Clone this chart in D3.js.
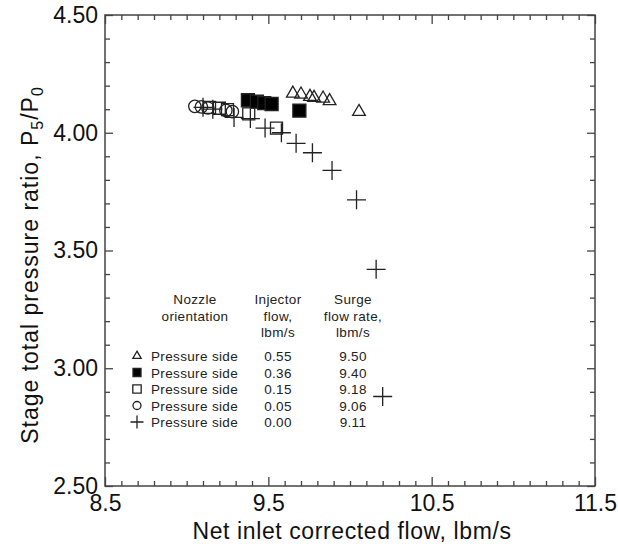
<!DOCTYPE html>
<html>
<head>
<meta charset="utf-8">
<script src="https://cdn.jsdelivr.net/npm/d3@7"></script>
<style>
  body { margin: 0; background: #fff; }
  svg { font-family: "Liberation Sans", Arial, Helvetica, sans-serif; }
  .axis path, .axis line { stroke: #444; stroke-width: 1.3; }
  .axis text { font-size: 23px; fill: #111; }
  .mark { stroke: #222; stroke-width: 1.3; }
  .leg { font-size: 13.5px; fill: #222; letter-spacing: 0.35px; }
  .title { font-size: 23px; fill: #111; }
</style>
</head>
<body>
<svg id="chart" width="618" height="546"></svg>
<script>
// data
const triX = [9.65, 9.70, 9.755, 9.78, 9.835, 9.875, 10.055]
const triY = [4.167, 4.163, 4.153, 4.149, 4.146, 4.135, 4.089]
const filledX = [9.375, 9.43, 9.475, 9.52, 9.69]
const filledY = [4.138, 4.132, 4.126, 4.122, 4.094]
const openSqX = [9.14, 9.20, 9.25, 9.38, 9.55]
const openSqY = [4.108, 4.104, 4.098, 4.080, 4.020]
const circX = [9.05, 9.09, 9.13, 9.24, 9.28]
const circY = [4.112, 4.110, 4.105, 4.095, 4.090]
const plusX = [9.10, 9.16, 9.29, 9.39, 9.48, 9.58, 9.67, 9.77, 9.89, 10.04, 10.16, 10.20]
const plusY = [4.108, 4.100, 4.065, 4.060, 4.020, 4.000, 3.955, 3.915, 3.840, 3.715, 3.420, 2.880]

const xTicks = [8.5, 9.5, 10.5, 11.5]
const yTicks = [2.5, 3.0, 3.5, 4.0, 4.5]

const legendKinds = ["tri", "filled", "open", "circ", "plus"]
const legendOrient = ["Pressure side", "Pressure side", "Pressure side", "Pressure side", "Pressure side"]
const injectorFlow = ["0.55", "0.36", "0.15", "0.05", "0.00"]
const surgeFlow = ["9.50", "9.40", "9.18", "9.06", "9.11"]

let svg = d3.select("#chart")
let mLeft = 105, mRight = 595, mTop = 15, mBottom = 486

let xScale = d3.scaleLinear().domain([8.5, 11.5]).range([mLeft, mRight])
let yScale = d3.scaleLinear().domain([2.5, 4.5]).range([mBottom, mTop])

let xMinor = d3.range(86, 116).map(d => d / 10).filter(d => !xTicks.some(t => Math.abs(t - d) < 1e-9))
let yMinor = d3.range(26, 45).map(d => d / 10).filter(d => !yTicks.some(t => Math.abs(t - d) < 1e-9))

// frame
svg.append("rect").attr("x", mLeft).attr("y", mTop)
    .attr("width", mRight - mLeft).attr("height", mBottom - mTop)
    .attr("fill", "none").attr("stroke", "#444").attr("stroke-width", 1.5)

function addAxis(gen, tx, ty, labels) {
    let g = svg.append("g").attr("class", "axis")
        .attr("transform", `translate(${tx},${ty})`).call(gen)
    g.select(".domain").remove()
    if (!labels) g.selectAll("text").remove()
    return g
}
// bottom
let xb = addAxis(d3.axisBottom(xScale).tickValues(xTicks).tickSize(-9)
    .tickFormat(d3.format(".1f")), 0, mBottom, true)
xb.selectAll("text").attr("dy", "0.71em").attr("y", 9)
addAxis(d3.axisBottom(xScale).tickValues(xMinor).tickSize(-5), 0, mBottom, false)
// top
addAxis(d3.axisTop(xScale).tickValues(xTicks).tickSize(-9), 0, mTop, false)
addAxis(d3.axisTop(xScale).tickValues(xMinor).tickSize(-5), 0, mTop, false)
// left
addAxis(d3.axisLeft(yScale).tickValues(yTicks).tickSize(-8).tickPadding(7)
    .tickFormat(d3.format(".2f")), mLeft, 0, true)
addAxis(d3.axisLeft(yScale).tickValues(yMinor).tickSize(-5), mLeft, 0, false)
// right
addAxis(d3.axisRight(yScale).tickValues(yTicks).tickSize(-8), mRight, 0, false)
addAxis(d3.axisRight(yScale).tickValues(yMinor).tickSize(-5), mRight, 0, false)

// axis titles
svg.append("text").attr("class", "title").attr("x", 352).attr("y", 539)
    .attr("text-anchor", "middle").style("letter-spacing", "0.6px")
    .text("Net inlet corrected flow, lbm/s")

let yt = svg.append("text").attr("class", "title")
    .attr("transform", "translate(38,265) rotate(-90)")
    .attr("text-anchor", "middle").style("letter-spacing", "1px")
yt.append("tspan").text("Stage total pressure ratio, P")
yt.append("tspan").text("5").attr("dy", 5).style("font-size", "16px")
yt.append("tspan").text("/P").attr("dy", -5)
yt.append("tspan").text("0").attr("dy", 5).style("font-size", "16px")

// markers
function plusPath(s) {
    let h = s / 2
    return `M${-h},0H${h}M0,${-h}V${h}`
}
function markerPath(kind, big) {
    if (kind == "tri") return d3.symbol(d3.symbolTriangle, big ? 70 : 30)()
    if (kind == "filled") return d3.symbol(d3.symbolSquare, big ? 169 : 64)()
    if (kind == "open") return d3.symbol(d3.symbolSquare, big ? 144 : 70)()
    if (kind == "circ") return d3.symbol(d3.symbolCircle, big ? 120 : 50)()
    return plusPath(big ? 19 : 13)
}
function drawSeries(xs, ys, kind) {
    let data = xs.map((x, i) => ({x: x, y: ys[i]}))
    svg.append("g").selectAll("path").data(data).enter()
        .append("path")
        .attr("class", "mark")
        .attr("transform", d => `translate(${xScale(d.x)},${yScale(d.y)})`)
        .attr("d", markerPath(kind, true))
        .attr("fill", kind == "filled" ? "#000" : "none")
}
drawSeries(circX, circY, "circ")
drawSeries(openSqX, openSqY, "open")
drawSeries(plusX, plusY, "plus")
drawSeries(filledX, filledY, "filled")
drawSeries(triX, triY, "tri")

// legend table
let leg = svg.append("g")
let heads = [
    {x: 195, lines: ["Nozzle", "orientation"]},
    {x: 278, lines: ["Injector", "flow,", "lbm/s"]},
    {x: 353, lines: ["Surge", "flow rate,", "lbm/s"]}
]
heads.forEach(h => {
    h.lines.forEach((t, i) => {
        leg.append("text").attr("class", "leg").attr("x", h.x).attr("y", 304 + i * 16.7)
            .attr("text-anchor", "middle").text(t)
    })
})
let rowY = d3.scalePoint().domain(d3.range(5)).range([356, 422])
legendKinds.forEach((k, i) => {
    let y = rowY(i)
    leg.append("path").attr("class", "mark")
        .attr("transform", `translate(137,${y})`)
        .attr("d", markerPath(k, false))
        .attr("fill", k == "filled" ? "#000" : "none")
    leg.append("text").attr("class", "leg").attr("x", 151).attr("y", y + 5).text(legendOrient[i])
    leg.append("text").attr("class", "leg").attr("x", 278).attr("y", y + 5)
        .attr("text-anchor", "middle").text(injectorFlow[i])
    leg.append("text").attr("class", "leg").attr("x", 353).attr("y", y + 5)
        .attr("text-anchor", "middle").text(surgeFlow[i])
})
</script>
</body>
</html>
